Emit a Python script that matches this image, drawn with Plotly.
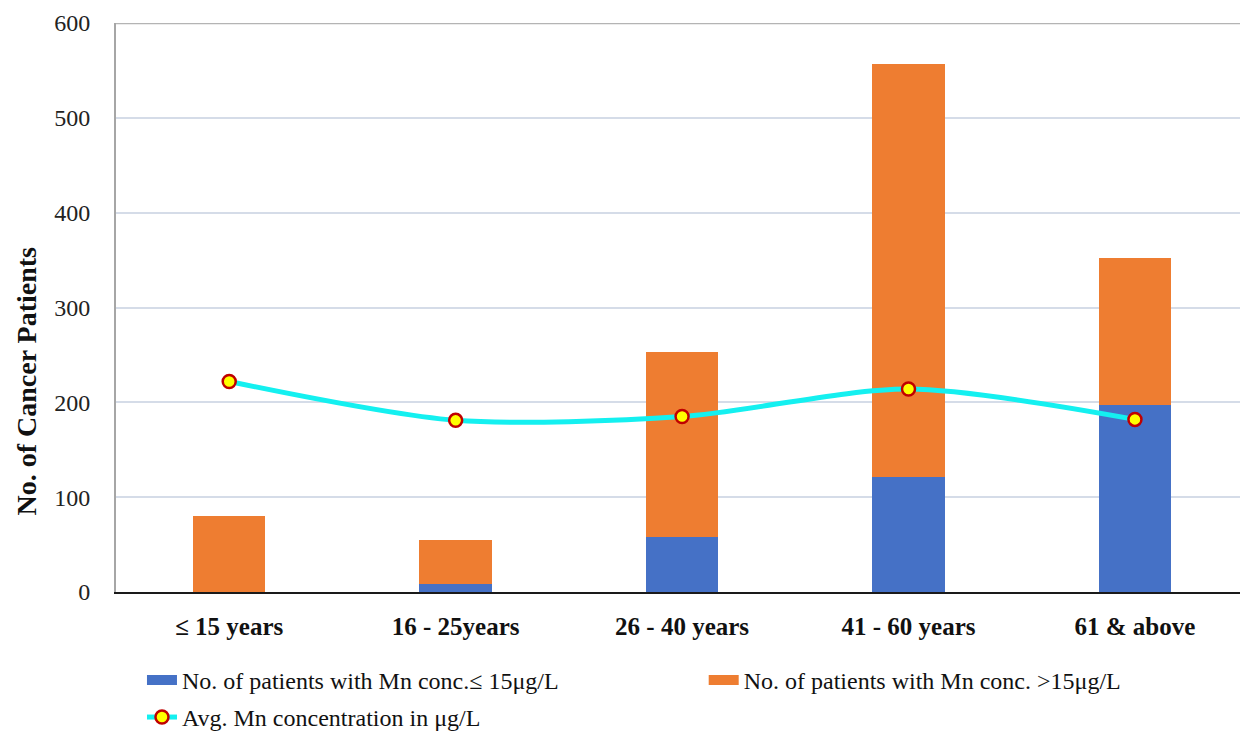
import plotly.graph_objects as go

# Age groups of the cancer patients
age_groups = ["≤ 15 years", "16 - 25years", "26 - 40 years", "41 - 60 years", "61 & above"]

# Number of patients per blood Mn concentration band
mn_low = [0, 8, 58, 121, 197]        # Mn conc. ≤ 15 µg/L
mn_high = [80, 47, 195, 436, 155]    # Mn conc. > 15 µg/L

# Average Mn concentration (µg/L) per age group
avg_mn = [222, 181, 185, 214, 182]

SERIF = "Liberation Serif, Times New Roman, serif"
BLUE = "#4571C6"
ORANGE = "#EE7D31"
CYAN = "#14F0F0"

fig = go.Figure()

fig.add_trace(go.Bar(
    x=age_groups, y=mn_low, width=0.32,
    marker=dict(color=BLUE, line=dict(width=0)),
    name="No. of patients with Mn conc.≤ 15μg/L",
    showlegend=False, legendgroup="low",
))
fig.add_trace(go.Bar(
    x=age_groups, y=mn_high, width=0.32,
    marker=dict(color=ORANGE, line=dict(width=0)),
    name="No. of patients with Mn conc. >15μg/L",
    showlegend=False, legendgroup="high",
))
fig.add_trace(go.Scatter(
    x=age_groups, y=avg_mn, mode="lines+markers",
    line=dict(color=CYAN, width=5, shape="spline", smoothing=0.8),
    marker=dict(size=13, color="#FFFF00", line=dict(color="#C00000", width=2.5)),
    name="Avg. Mn concentration in μg/L",
    legend="legend3",
))

# Wide swatches for the bar series in the legend
fig.add_trace(go.Scatter(
    x=[None], y=[None], mode="lines",
    line=dict(color=BLUE, width=13),
    name="No. of patients with Mn conc.≤ 15μg/L",
    legendgroup="low", legend="legend",
))
fig.add_trace(go.Scatter(
    x=[None], y=[None], mode="lines",
    line=dict(color=ORANGE, width=13),
    name="No. of patients with Mn conc. >15μg/L",
    legendgroup="high", legend="legend2",
))

legend_style = dict(
    orientation="h", xanchor="left", yanchor="top",
    xref="container", yref="container",
    font=dict(family=SERIF, size=24, color="#111111"),
    bgcolor="rgba(0,0,0,0)", borderwidth=0,
)

fig.update_layout(
    width=1240, height=735,
    margin=dict(l=116, r=0, t=23, b=143, autoexpand=False),
    paper_bgcolor="white", plot_bgcolor="white",
    barmode="stack", bargap=0,
    showlegend=True,
    legend=dict(x=0.1145, y=0.105, **legend_style),
    legend2=dict(x=0.5675, y=0.105, **legend_style),
    legend3=dict(x=0.1145, y=0.0545, **legend_style),
    xaxis=dict(
        type="category", range=[-0.5, 4.464], automargin=False,
        showline=True, linecolor="#1a1a1a", linewidth=2,
        showgrid=False, ticks="", zeroline=False,
        tickfont=dict(family=SERIF, size=25, color="#111111", weight="bold"),
        ticklabelstandoff=11,
    ),
    yaxis=dict(
        range=[0, 600], dtick=100, tick0=0, automargin=False,
        showline=True, linecolor="#A6A6A6", linewidth=2,
        showgrid=True, gridcolor="#D5DCE8", gridwidth=1.5,
        zeroline=False, ticks="",
        tickfont=dict(family=SERIF, size=24, color="#222222"),
        ticklabelstandoff=19,
    ),
    shapes=[dict(
        type="line", xref="paper", yref="y", x0=0, x1=1, y0=600, y1=600,
        line=dict(color="#B4B4B4", width=2.5), layer="above",
    )],
    annotations=[dict(
        text="<b>No. of Cancer Patients</b>", xref="paper", yref="paper",
        x=-0.080, y=0.37, xanchor="center", yanchor="middle",
        textangle=-90, showarrow=False,
        font=dict(family=SERIF, size=28, color="#111111"),
    )],
)

fig.write_html("out.html")
